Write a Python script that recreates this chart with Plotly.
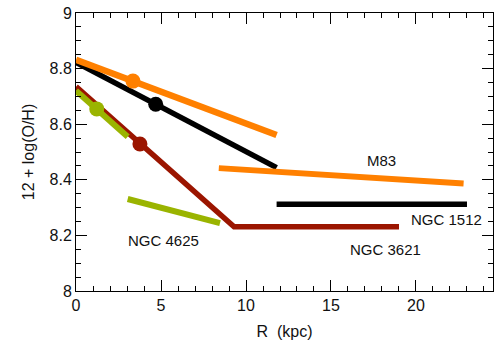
import plotly.graph_objects as go

# NGC 1512 (black)
n1512_in_r = [0.0, 11.8]
n1512_in_oh = [8.822, 8.444]
n1512_out_r = [11.8, 23.0]
n1512_out_oh = [8.312, 8.312]
n1512_pt = ([4.69], [8.672])

# M83 (orange)
m83_in_r = [0.0, 11.8]
m83_in_oh = [8.832, 8.561]
m83_out_r = [8.4, 22.8]
m83_out_oh = [8.442, 8.387]
m83_pt = ([3.35], [8.755])

# NGC 3621 (dark red)
n3621_r = [0.0, 9.3, 19.0]
n3621_oh = [8.735, 8.231, 8.231]
n3621_pt = ([3.76], [8.529])

# NGC 4625 (green)
n4625_in_r = [0.0, 3.04]
n4625_in_oh = [8.720, 8.555]
n4625_out_r = [3.04, 8.47]
n4625_out_oh = [8.331, 8.244]
n4625_pt = ([1.22], [8.655])

labels = ["M83", "NGC 1512", "NGC 3621", "NGC 4625"]
label_r = [17.98, 21.8, 18.2, 5.14]
label_oh = [8.469, 8.258, 8.150, 8.180]

x_ticks = [0, 5, 10, 15, 20]
y_ticks = [8, 8.2, 8.4, 8.6, 8.8, 9]
y_ticktext = ["8", "8.2", "8.4", "8.6", "8.8", "9"]

ORANGE = "#FF8000"
BLACK = "#000000"
RED = "#9B1500"
GREEN = "#9AB400"

fig = go.Figure()

def line(x, y, c, w=6):
    fig.add_trace(go.Scatter(x=x, y=y, mode="lines", line=dict(color=c, width=w),
                             showlegend=False))

def pt(p, c):
    fig.add_trace(go.Scatter(x=p[0], y=p[1], mode="markers",
                             marker=dict(color=c, size=15),
                             showlegend=False))

line(n1512_in_r, n1512_in_oh, BLACK, 5.5)
line(n1512_out_r, n1512_out_oh, BLACK, 5.5)
pt(n1512_pt, BLACK)
line(m83_in_r, m83_in_oh, ORANGE, 6.5)
line(m83_out_r, m83_out_oh, ORANGE, 6)
pt(m83_pt, ORANGE)
line(n3621_r, n3621_oh, RED, 5.5)
pt(n3621_pt, RED)
line(n4625_in_r, n4625_in_oh, GREEN, 6)
line(n4625_out_r, n4625_out_oh, GREEN, 6)
pt(n4625_pt, GREEN)

for t, x, y in zip(labels, label_r, label_oh):
    fig.add_annotation(x=x, y=y, text=t, showarrow=False, xref="x", yref="y",
                       font=dict(size=15, color="#111111"))

fig.update_layout(
    template="none",
    width=494, height=340,
    margin=dict(l=76, r=1, t=13, b=49),
    font=dict(family="Liberation Sans", size=15, color="#000000"),
    xaxis=dict(range=[0, 24.53], tickvals=x_ticks, ticktext=[str(v) for v in x_ticks],
               showgrid=False, zeroline=False,
               showline=True, linecolor="black", mirror="allticks",
               ticks="inside", ticklen=11, tickcolor="black",
               minor=dict(ticks="inside", ticklen=5, dtick=1, tickcolor="black"),
               tickfont=dict(size=16, color="#111111"),
               title=dict(text="R  (kpc)", font=dict(size=16, color="#111111"))),
    yaxis=dict(range=[8, 9], tickvals=y_ticks, ticktext=y_ticktext,
               showgrid=False, zeroline=False,
               showline=True, linecolor="black", mirror="allticks",
               ticks="inside", ticklen=11, tickcolor="black",
               minor=dict(ticks="inside", ticklen=5, dtick=0.05, tickcolor="black"),
               tickfont=dict(size=16, color="#111111"),
               title=dict(text="12 + log(O/H)", font=dict(size=16, color="#111111"))),
)

fig.write_html("out.html", config={"displayModeBar": False},
               post_script="document.body.style.margin='0';")
